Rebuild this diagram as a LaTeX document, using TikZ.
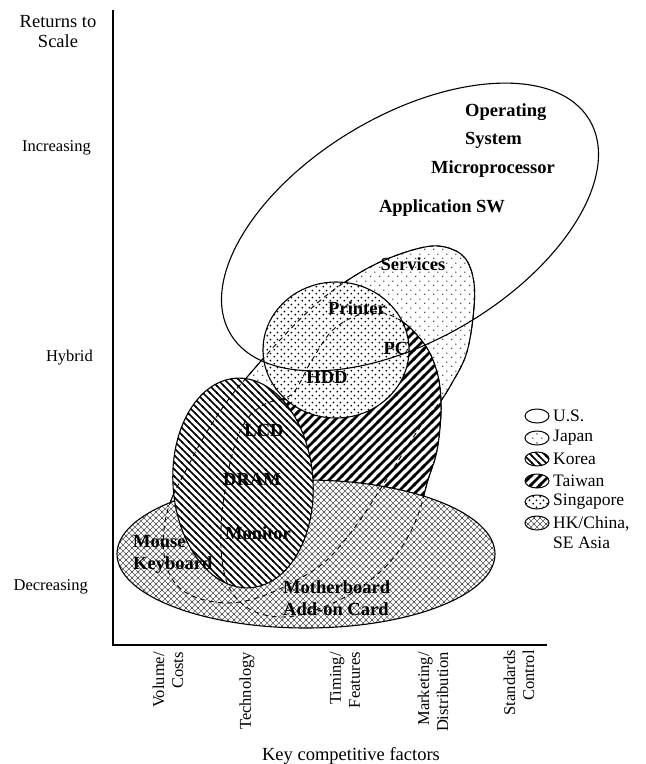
\documentclass[tikz,border=0pt]{standalone}
\usepackage{fontspec}
\setmainfont{Liberation Serif}
\usetikzlibrary{patterns}

% fill patterns of the six regions
\pgfdeclarepatternformonly{jpdots}{\pgfpointorigin}{\pgfpoint{9pt}{9pt}}{\pgfpoint{9pt}{9pt}}{%
  \pgfpathcircle{\pgfpoint{2pt}{2pt}}{0.75pt}%
  \pgfpathcircle{\pgfpoint{6.5pt}{6.5pt}}{0.75pt}%
  \pgfusepath{fill}}
\pgfdeclarepatternformonly{sgdots}{\pgfpointorigin}{\pgfpoint{7pt}{7pt}}{\pgfpoint{7pt}{7pt}}{%
  \pgfpathcircle{\pgfpoint{1.5pt}{1.5pt}}{1.1pt}%
  \pgfpathcircle{\pgfpoint{5pt}{5pt}}{1.1pt}%
  \pgfusepath{fill}}
\pgfdeclarepatternformonly{krlines}{\pgfpoint{-1pt}{-1pt}}{\pgfpoint{8pt}{8pt}}{\pgfpoint{7pt}{7pt}}{%
  \pgfsetlinewidth{1.6pt}%
  \pgfpathmoveto{\pgfpoint{-1pt}{8pt}}%
  \pgfpathlineto{\pgfpoint{8pt}{-1pt}}%
  \pgfusepath{stroke}}
\pgfdeclarepatternformonly{twlines}{\pgfpoint{-2pt}{-2pt}}{\pgfpoint{11pt}{11pt}}{\pgfpoint{9pt}{9pt}}{%
  \pgfsetlinewidth{2.8pt}%
  \pgfpathmoveto{\pgfpoint{-2pt}{-2pt}}%
  \pgfpathlineto{\pgfpoint{11pt}{11pt}}%
  \pgfusepath{stroke}}
\pgfdeclarepatternformonly{hkcross}{\pgfpoint{-1pt}{-1pt}}{\pgfpoint{7pt}{7pt}}{\pgfpoint{6pt}{6pt}}{%
  \pgfsetlinewidth{0.45pt}%
  \pgfpathmoveto{\pgfpoint{-1pt}{-1pt}}\pgfpathlineto{\pgfpoint{7pt}{7pt}}%
  \pgfpathmoveto{\pgfpoint{-1pt}{7pt}}\pgfpathlineto{\pgfpoint{7pt}{-1pt}}%
  \pgfusepath{stroke}}

\newcommand{\japanpath}{plot[smooth cycle, tension=0.6] coordinates {(420,248) (445,247) (465,258) (474,283) (473,318) (466,355) (452,383) (440,402) (425,420) (405,450) (383,485) (355,527) (327,560) (297,580) (260,597) (227,603) (195,597) (175,583) (165,560) (164,530) (170,503) (185,472) (205,435) (228,400) (248,376) (280,340) (315,305) (345,282) (380,262)}}
\newcommand{\taiwanpath}{plot[smooth cycle, tension=0.6] coordinates {(370,312) (400,320) (425,345) (437,372) (441,400) (440,428) (436,455) (428,480) (418,515) (403,545) (380,572) (347,596) (310,612) (283,617) (258,613) (240,602) (228,585) (222,560) (221,530) (224,497) (232,455) (245,422) (265,404) (292,394) (312,360) (335,328)}}

\begin{document}
\begin{tikzpicture}[x=1pt, y=-1pt,
  region/.style={draw, line width=1.1pt, preaction={fill=white}},
  hidden/.style={line width=0.9pt, dash pattern=on 5pt off 4pt},
  item/.style={font=\fontsize{18.5}{22}\selectfont\bfseries, inner sep=0pt},
  axislabel/.style={font=\fontsize{16.5}{19}\selectfont, inner sep=0pt},
  keylabel/.style={font=\fontsize{17.5}{20}\selectfont, inner sep=0pt, anchor=west}]

\useasboundingbox (0,0) rectangle (646,764);

% axes
\draw[line width=1.2pt] (113,10) -- (113,645) -- (547,645);

% regions, back to front
\draw[region, pattern=jpdots] \japanpath;
\draw[region, pattern=twlines] \taiwanpath;
\draw[region, pattern=sgdots] (336,350) ellipse [x radius=73pt, y radius=68pt];
\draw[region, pattern=hkcross, pattern color=black!65] (306,554) ellipse [x radius=189pt, y radius=74pt];
\draw[region, pattern=krlines, rotate around={4:(243,483)}] (243,483) ellipse [x radius=70pt, y radius=105pt];

% hidden edges
\draw[hidden] \japanpath;
\draw[hidden] \taiwanpath;

% U.S.
\draw[line width=1.1pt, rotate around={30.8:(410,227)}] (410,227) ellipse [x radius=209pt, y radius=112pt];

% products
\node[item, anchor=west, align=left] (os) at (465,126) {Operating\\[6pt]System};
\node[item] (micro) at (493,169) {Microprocessor};
\node[item] (appsw) at (442,208) {Application SW};
\node[item] (services) at (413,264) {Services};
\node[item] (printer) at (357,308) {Printer};
\node[item] (pc) at (396,348) {PC};
\node[item] (hdd) at (327,377) {HDD};
\node[item] (lcd) at (264,430) {LCD};
\node[item] (dram) at (252,479) {DRAM};
\node[item] (monitor) at (258,533) {Monitor};
\node[item, anchor=west, align=left] (mouse) at (133,554) {Mouse\\Keyboard};
\node[item, anchor=west, align=left] (mobo) at (283,598) {Motherboard\\Add-on Card};

% vertical axis
\node[axislabel, font=\fontsize{18.5}{20}\selectfont, align=center] (rts) at (58,32) {Returns to\\Scale};
\node[axislabel, anchor=east] (incr) at (91,148) {Increasing};
\node[axislabel, anchor=east] (hybrid) at (93,358) {Hybrid};
\node[axislabel, anchor=east] (decr) at (88,587) {Decreasing};

% horizontal axis
\node[axislabel, rotate=90, anchor=east, align=right] (volume) at (168,652) {Volume/\\Costs};
\node[axislabel, rotate=90, anchor=east] (tech) at (247,652) {Technology};
\node[axislabel, rotate=90, anchor=east, align=right] (timing) at (345,652) {Timing/\\Features};
\node[axislabel, rotate=90, anchor=east, align=right] (marketing) at (433,652) {Marketing/\\Distribution};
\node[axislabel, rotate=90, anchor=east, align=right] (standards) at (519,650) {Standards\\Control};
\node[axislabel, font=\fontsize{18.5}{20}\selectfont, anchor=base] (kcf) at (351,760) {Key competitive factors};

% legend
\draw[line width=1pt] (537,416) ellipse [x radius=12pt, y radius=7pt];
\node[keylabel] (keyus) at (553,416) {U.S.};
\draw[region, line width=1pt, pattern=jpdots] (537,438) ellipse [x radius=12pt, y radius=7pt];
\node[keylabel] (keyjp) at (553,438) {Japan};
\draw[region, line width=1pt, pattern=krlines] (537,459) ellipse [x radius=12pt, y radius=7pt];
\node[keylabel] (keykr) at (553,459) {Korea};
\draw[region, line width=1pt, pattern=twlines] (537,481) ellipse [x radius=12pt, y radius=7pt];
\node[keylabel] (keytw) at (553,481) {Taiwan};
\draw[region, line width=1pt, pattern=sgdots] (537,502) ellipse [x radius=12pt, y radius=7pt];
\node[keylabel] (keysg) at (553,502) {Singapore};
\draw[region, line width=1pt, pattern=hkcross, pattern color=black!65] (537,523) ellipse [x radius=12pt, y radius=7pt];
\node[keylabel, align=left] (keyhk) at (553,533) {HK/China,\\SE Asia};

\end{tikzpicture}
\end{document}
